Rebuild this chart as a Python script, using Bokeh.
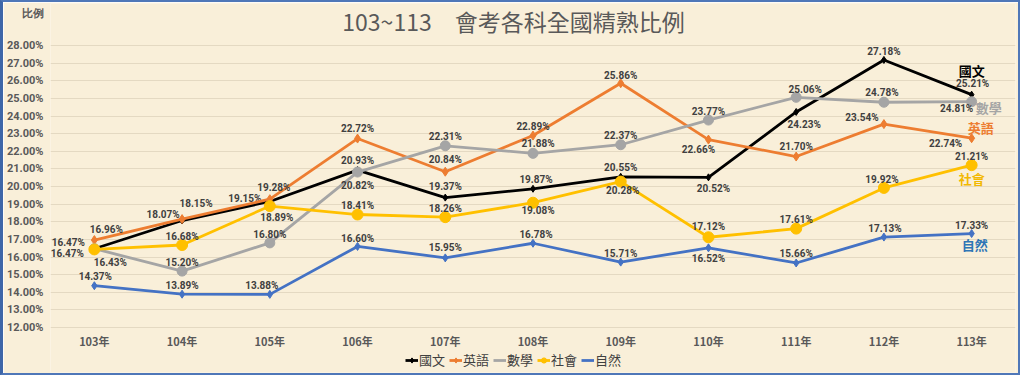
from bokeh.plotting import figure
from bokeh.models import (ColumnDataSource, FactorRange, Range1d, FixedTicker,
                          CustomJSTickFormatter, Legend, LegendItem, Label)
from bokeh.core.properties import value
from bokeh.embed import file_html
from bokeh.resources import INLINE

# ---------------- data ----------------
years = ["103年", "104年", "105年", "106年", "107年", "108年",
         "109年", "110年", "111年", "112年", "113年"]
subjects = ["國文", "英語", "數學", "社會", "自然"]
chinese = [16.47, 18.07, 19.15, 20.93, 19.37, 19.87, 20.55, 20.52, 24.23, 27.18, 25.21]
english = [16.96, 18.15, 19.28, 22.72, 20.84, 22.89, 25.86, 22.66, 21.70, 23.54, 22.74]
math = [16.47, 15.20, 16.80, 20.82, 22.31, 21.88, 22.37, 23.77, 25.06, 24.78, 24.81]
social = [16.43, 16.68, 18.89, 18.41, 18.26, 19.08, 20.28, 17.12, 17.61, 19.92, 21.21]
science = [14.37, 13.89, 13.88, 16.60, 15.95, 16.78, 15.71, 16.52, 15.66, 17.13, 17.33]
y_ticks = list(range(12, 29))
title_text = "103~113　會考各科全國精熟比例"
axis_title = "比例"

series_values = [chinese, english, math, social, science]

# ---------------- styles / label placement ----------------
colors = ["#000000", "#ED7D31", "#A5A5A5", "#FFC000", "#4472C4"]
end_label_colors = ["#000000", "#ED7D31", "#A5A5A5", "#F2B800", "#2E75B6"]
markers = ["diamond", "diamond", "circle", "circle", "diamond"]
marker_sizes = [7, 9, 10, 11, 8]
legend_marker = [True, True, False, True, False]
label_dx = [
    [-26, -19, -25, 0, 0, 3, 0, 5, 8, 0, 1],
    [12, 14, 4, 0, 0, 0, 0, -10, 0, -22, -26],
    [-27, 0, 0, 0, 0, 5, 0, 0, 9, -2, -15],
    [16, 0, 7, 0, 0, 5, 2, 0, 0, -2, 0],
    [1, 0, -8, 0, 0, 3, 0, 0, 0, 1, 0],
]
label_dy = [
    [-6, -6, -3, -10, -11, -9, -9, 11, 13, -8, -11],
    [-11, -16, -12, -10, -12, -9, -8, 10, -10, -7, 5],
    [5, -9, -8, 13, -9, -10, -9, -9, -8, -10, 7],
    [13, -9, 11, -9, -9, 8, 9, -11, -9, -8, -9],
    [-9, -9, -9, -8, -10, -9, -9, 11, -9, -9, -8],
]
end_dx = [0, 9, 17, 0, 3]
end_dy = [-24, -11, 6, 13, 11]

# frame covers the whole inner canvas height; 17.625 px per percent,
# 28 % sits 42 px below the frame top, 12 % sits 45 px above its bottom
PX = 17.625
Y_TOP = 28 + 42 / PX
Y_BOTTOM = 12 - 45 / PX
AXIS_TITLE_POS = 28 + 32.5 / PX

BG = "#F9EFD9"
p = figure(x_range=FactorRange(*years, range_padding=0),
           y_range=Range1d(Y_BOTTOM, Y_TOP),
           frame_width=965, frame_height=369,
           min_border_left=45, min_border_right=3,
           min_border_top=1, min_border_bottom=1,
           output_backend="svg", toolbar_location=None,
           background_fill_color=BG, border_fill_color=BG,
           outline_line_color=None)
p.styles = {"border": "2px solid #4F77B8", "border-left": "3px solid #3E66A8"}

p.yaxis.ticker = FixedTicker(ticks=y_ticks + [AXIS_TITLE_POS])
p.yaxis.formatter = CustomJSTickFormatter(
    code="return tick > 28.5 ? '%s' : tick.toFixed(2) + '%%';" % axis_title)
for ax in (p.xaxis, p.yaxis):
    ax.axis_line_color = None
    ax.major_tick_line_color = None
    ax.minor_tick_line_color = None
    ax.major_tick_out = 0
    ax.major_tick_in = 0
    ax.minor_tick_out = 0
    ax.minor_tick_in = 0
    ax.major_label_text_font = "Roboto"
    ax.major_label_text_font_style = "bold"
    ax.major_label_text_color = "#595959"
    ax.major_label_text_font_size = "11px"
p.yaxis.major_label_standoff = 7
p.xaxis.fixed_location = 12
p.xaxis.major_label_standoff = 5
p.xaxis.major_label_text_font = "Noto Sans CJK TC"
p.xgrid.grid_line_color = None
p.ygrid.ticker = FixedTicker(ticks=y_ticks)
p.ygrid.grid_line_color = "#E4D9C2"
p.ygrid.grid_line_width = 1

p.add_layout(Label(x=463, y=352, x_units="screen", y_units="screen",
                   text=title_text, text_font="Noto Sans CJK TC",
                   text_font_size="23px", text_color="#595959",
                   text_align="center", text_baseline="middle"))

items = []
for i, (name, vals) in enumerate(zip(subjects, series_values)):
    src = ColumnDataSource(dict(
        x=years, y=vals,
        txt=["%.2f%%" % v for v in vals],
        dx=label_dx[i], dy=label_dy[i]))
    lr = p.line("x", "y", source=src, line_color=colors[i], line_width=2.8)
    sr = p.scatter("x", "y", source=src, marker=markers[i],
                   size=marker_sizes[i], fill_color=colors[i],
                   line_color=colors[i])
    p.text("x", "y", text="txt", source=src, x_offset="dx", y_offset="dy",
           text_font=value("Roboto"), text_font_style="bold",
           text_font_size="10px", text_color="#404040",
           text_align="center", text_baseline="middle")
    p.text(x=[years[-1]], y=[vals[-1]], text=[name],
           x_offset=end_dx[i], y_offset=end_dy[i],
           text_font=value("Noto Sans CJK TC"), text_font_style="bold",
           text_font_size="13px", text_color=end_label_colors[i],
           text_align="center", text_baseline="middle")
    rends = [lr, sr] if legend_marker[i] else [lr]
    items.append(LegendItem(label=name, renderers=rends))

legend = Legend(items=items, orientation="horizontal", location=(355, 3),
                background_fill_alpha=0, border_line_color=None,
                label_text_font="Noto Sans CJK TC", label_text_font_size="13px",
                label_text_color="#404040", glyph_width=13, glyph_height=14,
                label_standoff=1, spacing=4, padding=0, margin=0,
                label_height=14)
p.add_layout(legend, "center")

open("out.html", "w").write(file_html(p, INLINE))
